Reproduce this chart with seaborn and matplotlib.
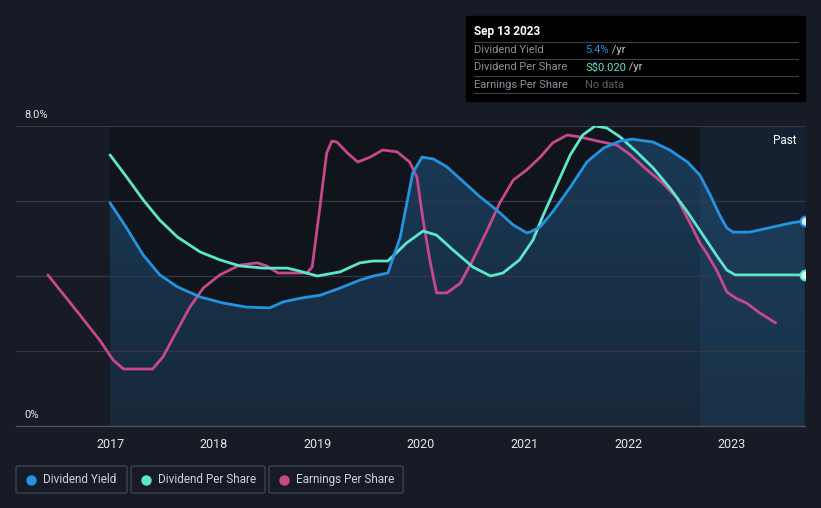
import numpy as np
import pandas as pd
import matplotlib
matplotlib.use("Agg")
import matplotlib.pyplot as plt
from matplotlib.patches import Rectangle, FancyBboxPatch
from matplotlib.colors import LinearSegmentedColormap
import seaborn as sns

# ---------------- data ----------------
dy_x = [2017.00, 2017.16, 2017.32, 2017.48, 2017.65, 2017.87, 2018.09, 2018.32,
        2018.54, 2018.67, 2018.84, 2019.03, 2019.22, 2019.41, 2019.54, 2019.68,
        2019.80, 2019.92, 2020.01, 2020.12, 2020.25, 2020.41, 2020.57, 2020.73,
        2020.89, 2021.02, 2021.05, 2021.15, 2021.27, 2021.44, 2021.60, 2021.76,
        2021.92, 2022.04, 2022.24, 2022.40, 2022.57, 2022.69, 2022.79, 2022.88,
        2022.95, 2023.01, 2023.17, 2023.40, 2023.56, 2023.70]
dy_y = [5.95, 5.28, 4.56, 4.03, 3.71, 3.44, 3.28, 3.17,
        3.15, 3.31, 3.41, 3.49, 3.68, 3.89, 4.00, 4.08,
        5.04, 6.75, 7.17, 7.12, 6.91, 6.51, 6.11, 5.76,
        5.36, 5.15, 5.17, 5.31, 5.71, 6.37, 7.04, 7.41,
        7.60, 7.65, 7.57, 7.36, 7.04, 6.69, 6.16, 5.63,
        5.28, 5.17, 5.17, 5.31, 5.41, 5.47]

dps_x = [2017.00, 2017.16, 2017.32, 2017.48, 2017.65, 2017.87, 2018.06, 2018.25,
         2018.48, 2018.71, 2018.83, 2019.00, 2019.22, 2019.41, 2019.54, 2019.68,
         2019.86, 2020.02, 2020.15, 2020.31, 2020.50, 2020.67, 2020.79, 2020.95,
         2021.08, 2021.18, 2021.31, 2021.44, 2021.56, 2021.68, 2021.79, 2021.92,
         2022.08, 2022.24, 2022.40, 2022.57, 2022.72, 2022.86, 2022.95, 2023.03,
         2023.70]
dps_y = [7.23, 6.64, 6.03, 5.49, 5.04, 4.64, 4.43, 4.27,
         4.21, 4.21, 4.13, 4.00, 4.11, 4.35, 4.40, 4.40,
         4.88, 5.20, 5.09, 4.69, 4.24, 4.00, 4.08, 4.43,
         4.96, 5.63, 6.43, 7.23, 7.76, 8.00, 7.95, 7.71,
         7.31, 6.88, 6.35, 5.71, 5.09, 4.51, 4.16, 4.03,
         4.03]

eps_x = [2016.40, 2016.71, 2016.90, 2017.03, 2017.13, 2017.41, 2017.51, 2017.65,
         2017.77, 2017.90, 2018.06, 2018.25, 2018.42, 2018.51, 2018.62, 2018.90,
         2018.95, 2019.03, 2019.09, 2019.14, 2019.19, 2019.29, 2019.39, 2019.51,
         2019.63, 2019.77, 2019.89, 2019.96, 2020.02, 2020.09, 2020.15, 2020.25,
         2020.38, 2020.50, 2020.64, 2020.76, 2020.89, 2021.02, 2021.15, 2021.27,
         2021.41, 2021.53, 2021.70, 2021.89, 2022.02, 2022.18, 2022.33, 2022.47,
         2022.59, 2022.69, 2022.76, 2022.86, 2022.95, 2023.05, 2023.14, 2023.27,
         2023.42]
eps_y = [4.03, 2.96, 2.29, 1.76, 1.52, 1.52, 1.84, 2.56,
         3.17, 3.68, 4.03, 4.29, 4.35, 4.27, 4.08, 4.08,
         4.24, 5.95, 7.28, 7.60, 7.57, 7.28, 7.04, 7.17,
         7.36, 7.31, 7.04, 6.64, 5.49, 4.35, 3.55, 3.55,
         3.81, 4.43, 5.23, 5.95, 6.56, 6.83, 7.17, 7.55,
         7.76, 7.71, 7.60, 7.49, 7.23, 6.83, 6.48, 6.08,
         5.44, 4.88, 4.59, 4.11, 3.57, 3.39, 3.28, 3.01,
         2.75]

years = [2017, 2018, 2019, 2020, 2021, 2022, 2023]
series_names = ["Dividend Yield", "Dividend Per Share", "Earnings Per Share"]

# ---------------- style ----------------
BG = "#161b25"
C_DY = "#2394df"
C_DPS = "#5ee6cc"
C_EPS = "#c8488c"
GRID = "#343a45"

sns.set_theme(style="dark")
plt.rcParams["font.family"] = ["Roboto", "DejaVu Sans"]

fig = plt.figure(figsize=(8.21, 5.08), dpi=100, facecolor=BG)
W, H = 821, 508
ax = fig.add_axes([16 / W, (H - 426) / H, (805 - 16) / W, 300 / H])
ax.set_facecolor(BG)
x0, x1 = 2016.093, 2023.704
ax.set_xlim(x0, x1)
ax.set_ylim(0, 8)

# darker region where data exists
ax.axvspan(2017.0, x1, color="#10141b", zorder=0, lw=0)

# gradient fill under dividend yield
poly = ax.fill_between(dy_x, dy_y, 0, color="none", lw=0, zorder=1)
grad = np.linspace(0, 1, 256).reshape(-1, 1)
cmap = LinearSegmentedColormap.from_list("g", ["#172839", "#1a3a58"])
im = ax.imshow(grad, extent=[2017.0, x1, 0, 8], origin="lower", aspect="auto",
               cmap=cmap, zorder=1)
path = poly.get_paths()[0]
im.set_clip_path(path, transform=ax.transData)

# past region overlay
ax.axvspan(2022.69, x1, color="#2a5a85", alpha=0.2, zorder=2, lw=0)

# gridlines
for gy in [2, 4, 6, 8]:
    ax.axhline(gy, color=GRID, lw=0.9, zorder=2)

df_dy = pd.DataFrame({"x": dy_x, "y": dy_y})
df_dps = pd.DataFrame({"x": dps_x, "y": dps_y})
df_eps = pd.DataFrame({"x": eps_x, "y": eps_y})
LW = 2.0
sns.lineplot(data=df_eps, x="x", y="y", ax=ax, color=C_EPS, lw=LW, zorder=4,
             solid_joinstyle="round", solid_capstyle="round")
sns.lineplot(data=df_dps, x="x", y="y", ax=ax, color=C_DPS, lw=LW, zorder=5,
             solid_joinstyle="round", solid_capstyle="round")
sns.lineplot(data=df_dy, x="x", y="y", ax=ax, color=C_DY, lw=LW, zorder=6,
             solid_joinstyle="round", solid_capstyle="round")
ax.plot([dy_x[-1]], [dy_y[-1]], "o", ms=7, mfc="#dfeaf5", mec=C_DY, mew=1.5, zorder=7)
ax.plot([dps_x[-1]], [dps_y[-1]], "o", ms=7, mfc="#dff7f2", mec=C_DPS, mew=1.5, zorder=7)

# axes styling
for s in ["top", "right", "left"]:
    ax.spines[s].set_visible(False)
ax.spines["bottom"].set_color("#4a505b")
ax.spines["bottom"].set_linewidth(1)
ax.set_yticks([])
ax.set_xticks(years)
ax.set_xticklabels([str(y) for y in years], color="#e6e6e6", fontsize=9)
ax.tick_params(axis="x", length=4, width=0.8, color="#4a505b", pad=5, direction="out")
ax.set_xlabel("")
ax.set_ylabel("")
ax.grid(False)

ax.text(0.011, 1.02, "8.0%", transform=ax.transAxes, color="#e6e6e6", fontsize=8,
        ha="left", va="bottom")
ax.text(0.011, 0.02, "0%", transform=ax.transAxes, color="#e6e6e6", fontsize=8,
        ha="left", va="bottom")
ax.text(2023.62, 7.6, "Past", color="#ffffff", fontsize=8.5, ha="right", va="center",
        zorder=8)

# tooltip box
def fx(px):
    return px / W

def fy(py):
    return 1 - py / H

fig.patches.append(Rectangle((fx(466), fy(101)), fx(805) - fx(466), (101 - 16) / H,
                             transform=fig.transFigure, color="#000000", zorder=10))
fig.text(fx(474), fy(31), "Sep 13 2023", color="#ffffff", fontsize=8.5,
         fontweight="bold", va="center", ha="left", zorder=11)
for sy in [42, 59, 76, 93]:
    fig.add_artist(plt.Line2D([fx(474), fx(798)], [fy(sy), fy(sy)], color="#3a3d44",
                              lw=0.9, transform=fig.transFigure, zorder=11))
rows = [("Dividend Yield", "5.4%", C_DY, " /yr"),
        ("Dividend Per Share", "S$0.020", C_DPS, " /yr"),
        ("Earnings Per Share", "No data", "#5d6169", "")]
for i, (lab, val, col, suf) in enumerate(rows):
    yy = fy(50 + i * 17.5)
    fig.text(fx(474), yy, lab, color="#8b9099", fontsize=8, va="center", ha="left", zorder=11)
    t = fig.text(fx(585), yy, val, color=col, fontsize=8, va="center", ha="left", zorder=11)
    if suf:
        fig.canvas.draw()
        bb = t.get_window_extent()
        fig.text(bb.x1 / W, yy, suf, color="#c8c8c8", fontsize=8, va="center",
                 ha="left", zorder=11)

# legend boxes
boxes = [(16, 127), (131, 265), (269, 403)]
cols = [C_DY, C_DPS, C_EPS]
for (bx0, bx1), name, col in zip(boxes, series_names, cols):
    fig.patches.append(FancyBboxPatch((fx(bx0), fy(493)), fx(bx1) - fx(bx0), 27 / H,
                                      boxstyle="round,pad=0,rounding_size=0.003",
                                      transform=fig.transFigure, fc=BG, ec="#3d424c",
                                      lw=1, zorder=10))
    fig.add_artist(plt.Line2D([fx(bx0 + 15)], [fy(479.5)], marker="o", ms=6.5,
                              color=col, transform=fig.transFigure, zorder=11))
    fig.text(fx(bx0 + 27), fy(479.5), name, color="#cfd2d8", fontsize=8.5,
             va="center", ha="left", zorder=11)

fig.savefig("out.png", dpi=100, facecolor=BG)
